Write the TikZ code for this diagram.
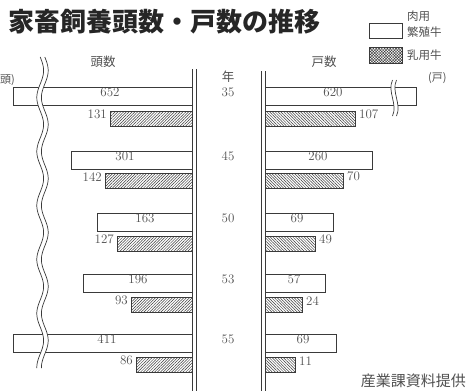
\documentclass[tikz,border=0pt]{standalone}
\usepackage{fontspec}
\newfontfamily\jp{Noto Sans CJK JP}
\usetikzlibrary{patterns.meta}
\definecolor{ink}{HTML}{3A3A3A}
\definecolor{txt}{HTML}{505050}
\tikzset{
  wbar/.style={draw=ink, line width=0.8pt, fill=white},
  hbarL/.style={draw=ink, line width=0.7pt, pattern={Lines[angle=45,distance=2pt,line width=0.5pt]}, pattern color=ink},
  hbarR/.style={draw=ink, line width=0.7pt, pattern={Lines[angle=-45,distance=2pt,line width=0.5pt]}, pattern color=ink},
  hleg/.style={draw=ink, line width=0.7pt, pattern={Hatch[angle=45,distance=2pt,line width=0.45pt]}, pattern color=ink},
  num/.style={text=txt, font=\fontsize{13}{13}\selectfont, inner sep=0pt},
  jlab/.style={text=txt, font=\jp\fontsize{12}{12}\selectfont, inner sep=0pt},
  axis/.style={draw=ink, line width=0.8pt},
}
\begin{document}
\begin{tikzpicture}[x=1pt,y=-1pt]
\useasboundingbox (0,0) rectangle (476,391);
% title
\node[anchor=west, inner sep=0pt, text=black!85, font=\jp\bfseries\fontsize{26}{26}\selectfont] (title) at (8,22) {家畜飼養頭数・戸数の推移};
% legend
\draw[wbar, line width=0.7pt] (369,23) rectangle (402,38);
\draw[hleg] (369,47) rectangle (402,63);
\node[jlab, anchor=west, font=\jp\fontsize{11.5}{11.5}\selectfont] (l1) at (407,16) {肉用};
\node[jlab, anchor=west, font=\jp\fontsize{11.5}{11.5}\selectfont] (l2) at (407,32) {繁殖牛};
\node[jlab, anchor=west, font=\jp\fontsize{11.5}{11.5}\selectfont] (l3) at (407,55) {乳用牛};
\node[jlab, anchor=west, font=\jp\fontsize{11}{11}\selectfont] (l4) at (428,78) {(戸)};
% headers
\node[jlab, font=\jp\fontsize{12.5}{12.5}\selectfont] (h1) at (103,62) {頭数};
\node[jlab, font=\jp\fontsize{12.5}{12.5}\selectfont] (h2) at (324,62) {戸数};
\node[jlab, anchor=west, font=\jp\fontsize{11}{11}\selectfont] (unit) at (0,80) {頭)};
\node[jlab, font=\jp\fontsize{12.5}{12.5}\selectfont] (nen) at (228,77) {年};
% axes
\draw[axis] (192,69) -- (192,391);
\draw[axis] (196,69) -- (196,391);
\draw[axis] (261,71) -- (261,391);
\draw[axis] (265,71) -- (265,391);
% rows
\foreach \yr/\wt/\ht/\lw/\lwx/\lh/\rw/\rwx/\rh/\a/\b/\c/\d in {
  35/87/111/13/110/110/416/333/355/652/131/620/107,
  45/151/173/71/125/105/372/318/343/301/142/260/70,
  50/213/236/97/145/117/333/297/315/163/127/69/49,
  53/274/297/83/138/131/325/294/302/196/93/57/24,
  55/334/357/13/107/136/336/303/295/411/86/69/11}{
  \draw[wbar] (\lw,\wt) rectangle (192,\wt+18);
  \draw[hbarL] (\lh,\ht) rectangle (192,\ht+15);
  \draw[wbar] (265,\wt) rectangle (\rw,\wt+18);
  \draw[hbarR] (265,\ht) rectangle (\rh,\ht+15);
  \node[num] (lw\yr) at (\lwx,\wt+9.5) {\a};
  \node[num, anchor=east] (lh\yr) at (\lh-3,\ht+8) {\b};
  \node[num] (rw\yr) at (\rwx,\wt+9.5) {\c};
  \node[num, anchor=west] (rh\yr) at (\rh+4,\ht+8) {\d};
  \node[num] (yr\yr) at (228,\wt+9.5) {\yr};
}
% left break (double wave)
\draw[white, line width=4.5pt] plot[domain=57:368, samples=140, smooth] ({42.5+3.4*sin((\x-57)/54*360)}, \x);
\draw[ink, line width=0.7pt] plot[domain=57:368, samples=140, smooth] ({40.2+3.4*sin((\x-57)/54*360)}, \x);
\draw[ink, line width=0.7pt] plot[domain=57:368, samples=140, smooth] ({44.8+3.4*sin((\x-57)/54*360)}, \x);
% right break on 620 bar
\fill[white] (392.5,80) .. controls (387,92) and (398,104) .. (392.5,116) -- (396.5,116) .. controls (402,104) and (391,92) .. (396.5,80) -- cycle;
\draw[ink, line width=0.7pt] (392.5,80) .. controls (387,92) and (398,104) .. (392.5,116);
\draw[ink, line width=0.7pt] (396.5,80) .. controls (391,92) and (402,104) .. (396.5,116);
% credit
\node[jlab, anchor=east, font=\jp\fontsize{15}{15}\selectfont] (credit) at (466,381) {産業課資料提供};
\end{tikzpicture}
\end{document}
